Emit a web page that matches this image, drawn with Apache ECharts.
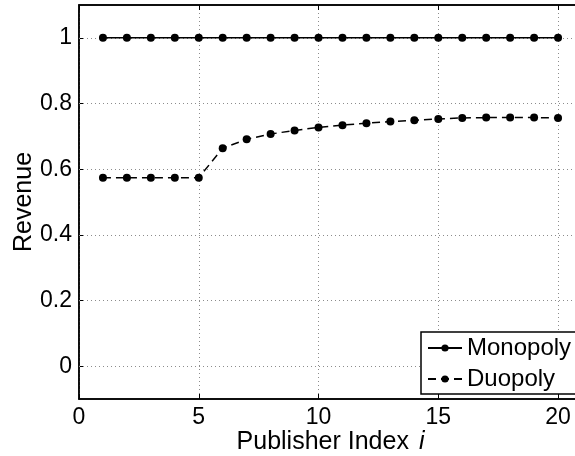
<!DOCTYPE html>
<html>
<head>
<meta charset="utf-8">
<script src="https://cdn.jsdelivr.net/npm/echarts@6/dist/echarts.min.js"></script>
<style>
  html, body { margin: 0; padding: 0; background: #fff; }
  #chart { width: 575px; height: 456px; }
</style>
</head>
<body>
<div id="chart"></div>
<script>
// Publisher index on the x axis
const publisherIndex = [1, 2, 3, 4, 5, 6, 7, 8, 9, 10, 11, 12, 13, 14, 15, 16, 17, 18, 19, 20];
// Revenue under each market structure
const monopoly = [1, 1, 1, 1, 1, 1, 1, 1, 1, 1, 1, 1, 1, 1, 1, 1, 1, 1, 1, 1];
const duopoly = [0.574, 0.574, 0.574, 0.574, 0.574, 0.664, 0.691, 0.707, 0.718, 0.727,
                 0.734, 0.740, 0.745, 0.749, 0.753, 0.756, 0.757, 0.757, 0.757, 0.756];
// Tick values
const xTicks = [0, 5, 10, 15, 20];
const yTicks = [0, 0.2, 0.4, 0.6, 0.8, 1];

const FONT = '"Liberation Sans", Arial, Helvetica, sans-serif';
const gridDot = { color: '#8c8c8c', width: 1, type: [1, 3] };

const pairs = (ys) => publisherIndex.map((x, i) => [x, ys[i]]);

const chart = echarts.init(document.getElementById('chart'), null, { renderer: 'canvas' });

chart.setOption({
  animation: false,
  backgroundColor: '#fff',
  textStyle: { fontFamily: FONT, color: '#000' },
  grid: {
    left: 79, top: 5, width: 503, height: 394,
    show: true, borderColor: '#000', borderWidth: 1.5,
    containLabel: false, outerBoundsMode: 'none'
  },
  legend: {
    orient: 'vertical',
    left: 421, top: 332,
    padding: [4, 40, 3, 6],
    itemGap: 7,
    itemWidth: 34, itemHeight: 9,
    backgroundColor: '#fff',
    borderColor: '#000', borderWidth: 1.5,
    textStyle: { fontFamily: FONT, fontSize: 24, color: '#000' },
    data: ['Monopoly', 'Duopoly']
  },
  xAxis: [
    {
      type: 'value', min: 0, max: 21, interval: 5,
      name: '{a|Publisher Index}\u00a0\u00a0\u00a0{b|i}',
      nameLocation: 'middle', nameGap: 31,
      nameMoveOverlap: false,
      nameTextStyle: {
        rich: {
          a: { fontFamily: FONT, fontSize: 25, color: '#000' },
          b: { fontFamily: FONT, fontSize: 25, fontStyle: 'italic', color: '#000' }
        }
      },
      axisLine: { show: true, onZero: false, lineStyle: { color: '#000', width: 1.5 } },
      axisTick: { show: true, inside: true, length: 5, lineStyle: { color: '#000', width: 1 } },
      axisLabel: { fontFamily: FONT, fontSize: 23, color: '#000', margin: 7, customValues: xTicks },
      splitLine: { show: true, lineStyle: gridDot }
    },
    {
      type: 'value', position: 'top', min: 0, max: 21, interval: 5,
      axisLine: { show: true, onZero: false, lineStyle: { color: '#000', width: 1.5 } },
      axisTick: { show: true, inside: true, length: 5, lineStyle: { color: '#000', width: 1 }, customValues: xTicks },
      axisLabel: { show: false },
      splitLine: { show: false }
    }
  ],
  yAxis: {
    type: 'value', min: -0.1, max: 1.1,
    name: 'Revenue',
    nameLocation: 'middle', nameGap: 42,
    nameMoveOverlap: false,
    nameRotate: 90,
    nameTextStyle: { fontFamily: FONT, fontSize: 25, color: '#000' },
    axisLine: { show: true, onZero: false, lineStyle: { color: '#000', width: 1.5 } },
    axisTick: { show: true, inside: true, length: 5, lineStyle: { color: '#000', width: 1 }, customValues: yTicks },
    axisLabel: { fontFamily: FONT, fontSize: 23, color: '#000', margin: 7, customValues: yTicks },
    splitLine: { show: false }
  },
  series: [
    {
      name: 'Monopoly',
      type: 'line',
      data: pairs(monopoly),
      symbol: 'circle', symbolSize: 8,
      itemStyle: { color: '#000' },
      lineStyle: { color: '#000', width: 1.5, type: 'solid' },
      z: 3,
      markLine: {
        silent: true,
        symbol: ['none', 'none'],
        label: { show: false },
        lineStyle: gridDot,
        z: 1,
        data: yTicks.map(v => ({ yAxis: v }))
      }
    },
    {
      name: 'Duopoly',
      type: 'line',
      data: pairs(duopoly),
      symbol: 'circle', symbolSize: 8,
      itemStyle: { color: '#000' },
      lineStyle: { color: '#000', width: 1.5, type: [8, 5] },
      z: 3
    }
  ]
});
</script>
</body>
</html>
